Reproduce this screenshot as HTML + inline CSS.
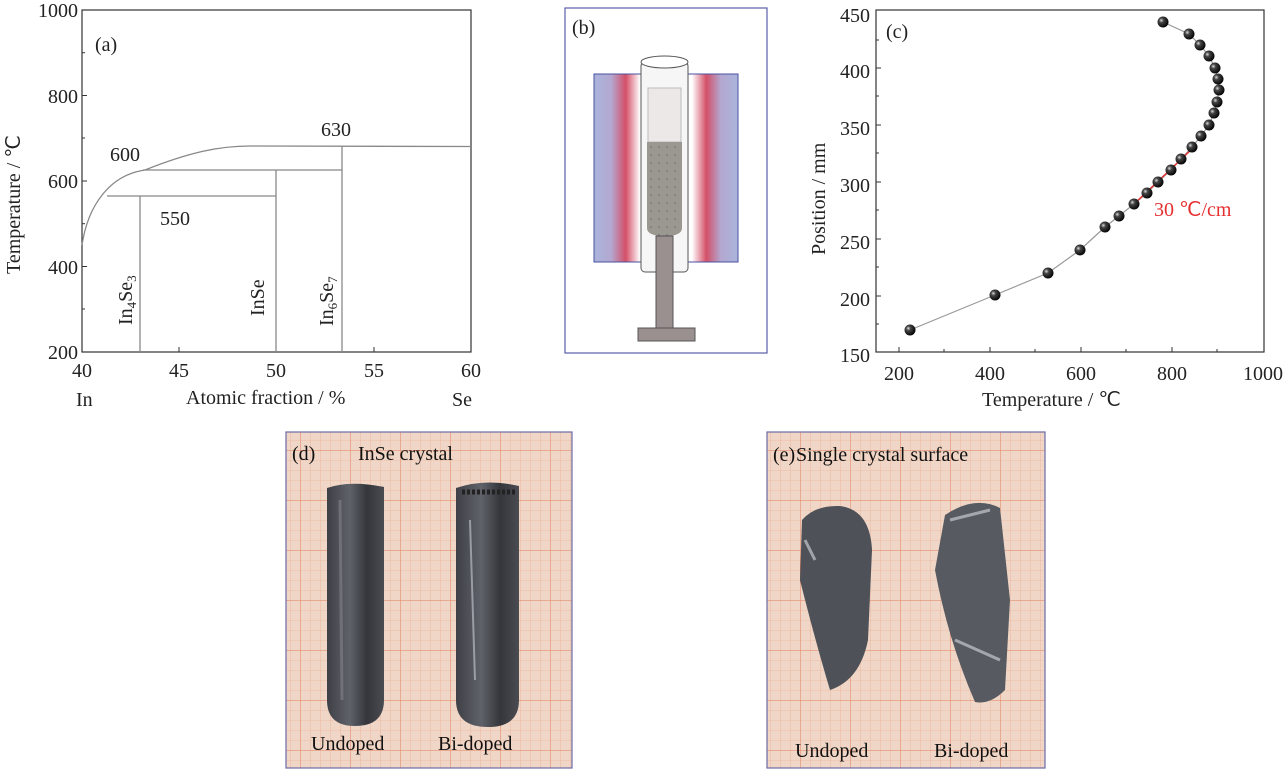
<!DOCTYPE html>
<html><head><meta charset="utf-8"><style>
body{margin:0;background:#fff}
svg{display:block;font-family:"Liberation Serif",serif}
</style></head><body>
<svg width="1288" height="770" viewBox="0 0 1288 770" xmlns="http://www.w3.org/2000/svg">
<defs>
<pattern id="grid" width="10" height="10" patternUnits="userSpaceOnUse">
<rect width="10" height="10" fill="#f0d6c6"/>
<path d="M0 0H10M0 0V10" stroke="#e9a58a" stroke-width="0.6" fill="none"/>
</pattern>
<pattern id="grid2" width="50" height="50" patternUnits="userSpaceOnUse">
<rect width="50" height="50" fill="url(#grid)"/>
<path d="M0 0H50M0 0V50" stroke="#e0805e" stroke-width="1" fill="none"/>
</pattern>
<linearGradient id="furn" x1="0" x2="1">
<stop offset="0" stop-color="#aab4dc"/><stop offset="0.12" stop-color="#b3a8d0"/><stop offset="0.22" stop-color="#d44f68"/><stop offset="0.32" stop-color="#fff"/>
<stop offset="0.68" stop-color="#fff"/><stop offset="0.78" stop-color="#d44f68"/><stop offset="0.88" stop-color="#b3a8d0"/><stop offset="1" stop-color="#aab4dc"/>
</linearGradient>
<radialGradient id="ball" cx="0.35" cy="0.35" r="0.7"><stop offset="0" stop-color="#ddd"/><stop offset="0.3" stop-color="#444"/><stop offset="1" stop-color="#000"/></radialGradient>
<linearGradient id="cry" x1="0" x2="1"><stop offset="0" stop-color="#3e4046"/><stop offset="0.4" stop-color="#5f6269"/><stop offset="0.7" stop-color="#34363b"/><stop offset="1" stop-color="#4a4c52"/></linearGradient>
<pattern id="dots" width="8" height="8" patternUnits="userSpaceOnUse"><rect width="8" height="8" fill="#9a9890"/><circle cx="3" cy="3" r="0.8" fill="#6d6b66"/></pattern>
</defs>

<!-- (a) -->
<rect x="82" y="10" width="389" height="342" fill="none" stroke="#333" stroke-width="1.2"/>
<g stroke="#333" stroke-width="1">
<line x1="82" y1="95.5" x2="87" y2="95.5"/><line x1="82" y1="181" x2="87" y2="181"/><line x1="82" y1="266.5" x2="87" y2="266.5"/>
<line x1="82" y1="52.7" x2="85" y2="52.7"/><line x1="82" y1="138" x2="85" y2="138"/><line x1="82" y1="223.7" x2="85" y2="223.7"/><line x1="82" y1="309" x2="85" y2="309"/>
<line x1="179" y1="352" x2="179" y2="347"/><line x1="276" y1="352" x2="276" y2="347"/><line x1="374" y1="352" x2="374" y2="347"/>
</g>
<g stroke="#888" stroke-width="1.3" fill="none">
<path d="M82 245 C88 205 110 175 145 170 C190 152 220 146 250 146 L471 146.5"/>
<line x1="107" y1="196" x2="276" y2="196"/>
<line x1="143" y1="170" x2="342" y2="170"/>
<line x1="140" y1="196" x2="140" y2="352"/>
<line x1="276" y1="170" x2="276" y2="352"/>
<line x1="342" y1="146" x2="342" y2="352"/>
</g>
<g font-size="20" fill="#222">
<text x="95" y="51">(a)</text>
<text x="110" y="161">600</text><text x="321" y="136">630</text><text x="160" y="225">550</text>
<text x="78" y="17" text-anchor="end">1000</text>
<text x="78" y="103" text-anchor="end">800</text>
<text x="78" y="188" text-anchor="end">600</text>
<text x="78" y="274" text-anchor="end">400</text>
<text x="78" y="359" text-anchor="end">200</text>
<text x="82" y="377" text-anchor="middle">40</text><text x="179" y="377" text-anchor="middle">45</text><text x="276" y="377" text-anchor="middle">50</text><text x="374" y="377" text-anchor="middle">55</text><text x="471" y="377" text-anchor="middle">60</text>
<text x="76" y="406">In</text><text x="452" y="406">Se</text>
<text x="186" y="404">Atomic fraction / %</text>
<text transform="translate(20,274) rotate(-90)">Temperature / ℃</text>
<text transform="translate(132,325) rotate(-90)">In<tspan font-size="13" dy="4">4</tspan><tspan dy="-4">Se</tspan><tspan font-size="13" dy="4">3</tspan></text>
<text transform="translate(264,316) rotate(-90)">InSe</text>
<text transform="translate(333,326) rotate(-90)">In<tspan font-size="13" dy="4">6</tspan><tspan dy="-4">Se</tspan><tspan font-size="13" dy="4">7</tspan></text>
</g>

<!-- (b) -->
<rect x="565" y="8" width="202" height="345" fill="#fff" stroke="#5a5ea8" stroke-width="1.2"/>
<text x="572" y="34" font-size="20" fill="#222">(b)</text>
<rect x="594" y="74" width="144" height="188" fill="url(#furn)" stroke="#4a52a0" stroke-width="1"/>
<rect x="641" y="62" width="47" height="210" rx="4" fill="#f6f6f6" stroke="#555" stroke-width="1"/>
<ellipse cx="664.5" cy="62" rx="23.5" ry="6" fill="#fff" stroke="#555"/>
<rect x="648" y="88" width="33" height="54" fill="#ece8e8" stroke="#bbb"/>
<path d="M647 142 H682 V228 Q682 236 664.5 236 Q647 236 647 228 Z" fill="url(#dots)"/>
<rect x="656" y="236" width="17" height="92" fill="#9a9090" stroke="#555"/>
<rect x="638" y="328" width="57" height="13" fill="#9a9090" stroke="#555"/>

<!-- (c) -->
<rect x="876" y="10" width="388" height="342" fill="none" stroke="#333" stroke-width="1.2"/>
<g stroke="#333">
<line x1="899" y1="352" x2="899" y2="347"/><line x1="990" y1="352" x2="990" y2="347"/><line x1="1081" y1="352" x2="1081" y2="347"/><line x1="1172" y1="352" x2="1172" y2="347"/>
<line x1="944" y1="352" x2="944" y2="349"/><line x1="1035" y1="352" x2="1035" y2="349"/><line x1="1126" y1="352" x2="1126" y2="349"/><line x1="1217" y1="352" x2="1217" y2="349"/>
<line x1="876" y1="296" x2="881" y2="296"/><line x1="876" y1="239" x2="881" y2="239"/><line x1="876" y1="182" x2="881" y2="182"/><line x1="876" y1="125" x2="881" y2="125"/><line x1="876" y1="68" x2="881" y2="68"/>
<line x1="876" y1="324" x2="879" y2="324"/><line x1="876" y1="267" x2="879" y2="267"/><line x1="876" y1="210" x2="879" y2="210"/><line x1="876" y1="153" x2="879" y2="153"/><line x1="876" y1="96" x2="879" y2="96"/><line x1="876" y1="40" x2="879" y2="40"/>
</g>
<polyline fill="none" stroke="#999" stroke-width="1.2" points="910,330 995,295 1048,273 1080,250 1105,227 1119,216 1134,204 1147,193 1158,182 1171,170 1181,159 1192,147 1201,136 1209,125 1214,113 1217,102 1219,90 1218,79 1215,68 1209,56 1200,45 1189,34 1163,22"/>
<line x1="1133" y1="205" x2="1193" y2="148" stroke="#e53030" stroke-width="1.5"/>
<g fill="url(#ball)">
<circle cx="910" cy="330" r="5.5"/><circle cx="995" cy="295" r="5.5"/><circle cx="1048" cy="273" r="5.5"/><circle cx="1080" cy="250" r="5.5"/><circle cx="1105" cy="227" r="5.5"/><circle cx="1119" cy="216" r="5.5"/><circle cx="1134" cy="204" r="5.5"/><circle cx="1147" cy="193" r="5.5"/><circle cx="1158" cy="182" r="5.5"/><circle cx="1171" cy="170" r="5.5"/><circle cx="1181" cy="159" r="5.5"/><circle cx="1192" cy="147" r="5.5"/><circle cx="1201" cy="136" r="5.5"/><circle cx="1209" cy="125" r="5.5"/><circle cx="1214" cy="113" r="5.5"/><circle cx="1217" cy="102" r="5.5"/><circle cx="1219" cy="90" r="5.5"/><circle cx="1218" cy="79" r="5.5"/><circle cx="1215" cy="68" r="5.5"/><circle cx="1209" cy="56" r="5.5"/><circle cx="1200" cy="45" r="5.5"/><circle cx="1189" cy="34" r="5.5"/><circle cx="1163" cy="22" r="5.5"/>
</g>
<g font-size="20" fill="#222">
<text x="886" y="38">(c)</text>
<text x="1154" y="216" fill="#e53030">30 ℃/cm</text>
<text x="870" y="22" text-anchor="end">450</text><text x="870" y="78" text-anchor="end">400</text><text x="870" y="135" text-anchor="end">350</text><text x="870" y="192" text-anchor="end">300</text><text x="870" y="249" text-anchor="end">250</text><text x="870" y="306" text-anchor="end">200</text><text x="870" y="362" text-anchor="end">150</text>
<text x="899" y="380" text-anchor="middle">200</text><text x="990" y="380" text-anchor="middle">400</text><text x="1081" y="380" text-anchor="middle">600</text><text x="1172" y="380" text-anchor="middle">800</text><text x="1263" y="380" text-anchor="middle">1000</text>
<text x="982" y="406">Temperature / ℃</text>
<text transform="translate(825,255) rotate(-90)">Position / mm</text>
</g>

<!-- (d) -->
<rect x="286" y="432" width="286" height="336" fill="url(#grid2)" stroke="#6a6aa8" stroke-width="1.2"/>
<path d="M327 488 Q350 480 384 487 L384 700 Q384 726 355 726 Q327 726 327 700 Z" fill="url(#cry)"/>
<path d="M456 488 Q485 478 519 486 L519 700 Q519 727 488 727 Q456 727 456 700 Z" fill="url(#cry)"/>
<path d="M462 492 H516" stroke="#222" stroke-width="5" stroke-dasharray="3,2"/>
<path d="M470 520 L475 680" stroke="#c8ccd4" stroke-width="2" opacity="0.6"/>
<path d="M340 500 L342 700" stroke="#8a8d94" stroke-width="3" opacity="0.5"/>
<g font-size="20" fill="#111">
<text x="292" y="460">(d)</text><text x="358" y="460">InSe crystal</text>
<text x="311" y="750">Undoped</text><text x="438" y="750">Bi-doped</text>
</g>

<!-- (e) -->
<rect x="767" y="432" width="278" height="336" fill="url(#grid2)" stroke="#6a6aa8" stroke-width="1.2"/>
<path d="M802 520 Q815 505 840 506 Q870 510 872 550 L868 640 Q860 680 830 690 Q815 640 800 580 Z" fill="#4e5157"/>
<path d="M945 515 Q975 495 1000 508 L1010 600 L1005 690 Q990 705 975 702 Q948 640 935 570 Z" fill="#575a60"/>
<path d="M805 540 L815 560 M950 520 L990 510 M955 640 L1000 660" stroke="#d8dbe0" stroke-width="3" opacity="0.6"/>
<g font-size="20" fill="#111">
<text x="773" y="461">(e)</text><text x="796" y="461">Single crystal surface</text>
<text x="795" y="757">Undoped</text><text x="934" y="757">Bi-doped</text>
</g>
</svg>
</body></html>
